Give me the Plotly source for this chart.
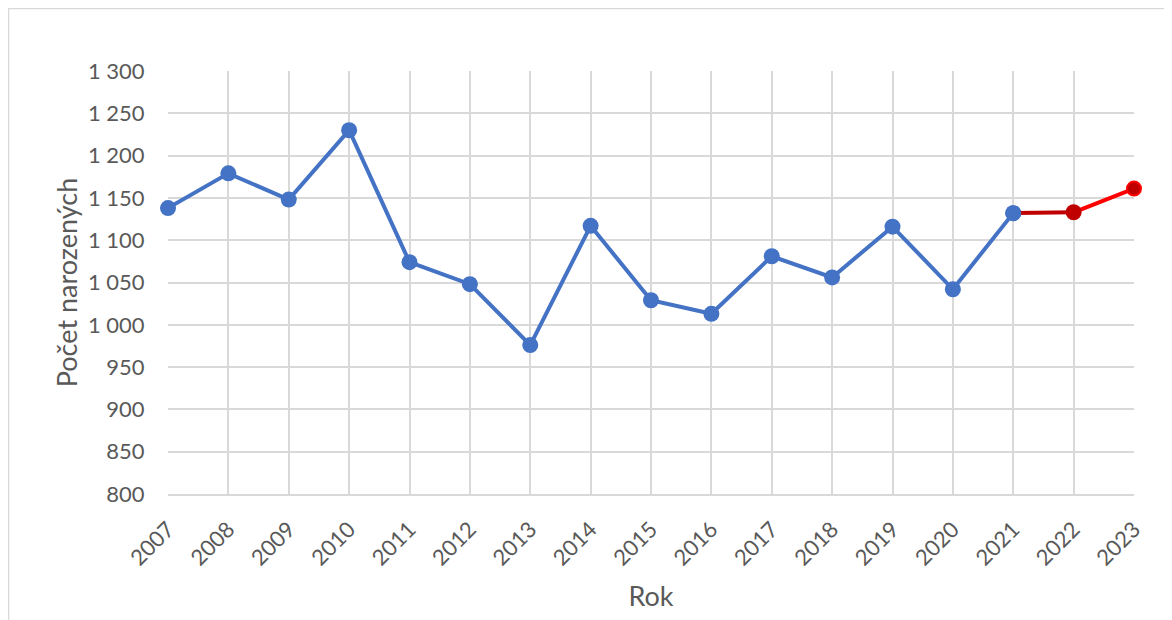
import plotly.graph_objects as go

years = list(range(2007, 2024))
births = [1138, 1179, 1148, 1230, 1074, 1048, 976, 1117, 1029, 1013, 1081, 1056, 1116, 1042, 1132, 1133, 1161]

blue = "#4472C4"
dark_red = "#C00000"
red = "#FF0000"

LW = 4
MS = 16

fig = go.Figure()
fig.add_trace(go.Scatter(
    x=years[:15], y=births[:15], mode="lines+markers",
    line=dict(color=blue, width=LW),
    marker=dict(color=blue, size=MS),
    showlegend=False, cliponaxis=False))
fig.add_trace(go.Scatter(
    x=years[14:16], y=births[14:16], mode="lines",
    line=dict(color=dark_red, width=LW), showlegend=False, cliponaxis=False))
fig.add_trace(go.Scatter(
    x=years[15:17], y=births[15:17], mode="lines",
    line=dict(color=red, width=LW), showlegend=False, cliponaxis=False))
fig.add_trace(go.Scatter(
    x=[years[14]], y=[births[14]], mode="markers",
    marker=dict(color=blue, size=MS), showlegend=False, cliponaxis=False))
fig.add_trace(go.Scatter(
    x=[years[15]], y=[births[15]], mode="markers",
    marker=dict(color=dark_red, size=MS), showlegend=False, cliponaxis=False))
fig.add_trace(go.Scatter(
    x=[years[16]], y=[births[16]], mode="markers",
    marker=dict(color=dark_red, size=MS - 2, line=dict(color=red, width=2)),
    showlegend=False, cliponaxis=False))

grid = "#D9D9D9"
fam = "Lato, Carlito, Calibri, sans-serif"
tickfont = dict(family=fam, size=22, color="#595959")
titlefont = dict(family=fam, size=27, color="#595959")

L, T, W, H = 160, 63, 966, 423

fig.update_layout(
    width=1172, height=620,
    margin=dict(l=L, r=1172 - L - W, t=T, b=620 - T - H, autoexpand=False),
    paper_bgcolor="white", plot_bgcolor="white",
    separators=", ",
    xaxis=dict(
        range=[2007, 2023], tickmode="array", tickvals=years,
        ticktext=[str(y) for y in years], tickangle=-45,
        tickfont=tickfont, showgrid=True, gridcolor=grid, gridwidth=1.5,
        showline=True, linecolor=grid, linewidth=1.5, zeroline=False,
        ticks="outside", ticklen=12, tickcolor="rgba(0,0,0,0)",
        title=dict(text="Rok", font=titlefont, standoff=18)),
    yaxis=dict(
        range=[800, 1300], dtick=50, tickformat=",.0f",
        tickfont=tickfont, showgrid=True, gridcolor=grid, gridwidth=1.5,
        showline=False, zeroline=False, ticks="outside", ticklen=18,
        tickcolor="rgba(0,0,0,0)",
        title=dict(text="Počet narozených", font=titlefont, standoff=2)),
    shapes=[
        dict(type="line", xref="paper", yref="paper",
             x0=(0 - L) / W, x1=(1172 - L) / W,
             y0=(T + H - 0.5) / H, y1=(T + H - 0.5) / H,
             line=dict(color=grid, width=1.5)),
        dict(type="line", xref="paper", yref="paper",
             x0=(0.5 - L) / W, x1=(0.5 - L) / W,
             y0=(T + H) / H, y1=(T + H - 620) / H,
             line=dict(color=grid, width=1.5)),
    ],
)

fig.write_html("out.html")
